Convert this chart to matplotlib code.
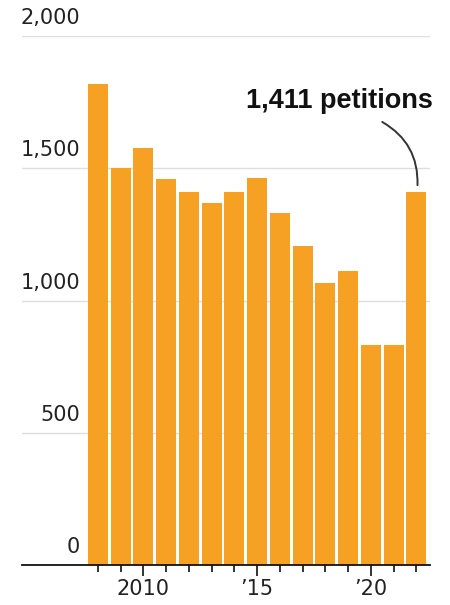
import matplotlib
matplotlib.use('Agg')
import matplotlib.pyplot as plt
from matplotlib.transforms import blended_transform_factory

plt.rcParams['font.family'] = ['DejaVu Sans']

# Petitions per year
years = list(range(2008, 2023))
petitions = [1820, 1500, 1575, 1460, 1410, 1370, 1410, 1465,
             1330, 1205, 1065, 1110, 832, 832, 1411]

y_ticks = [0, 500, 1000, 1500, 2000]
y_tick_labels = ['0', '500', '1,000', '1,500', '2,000']
x_major = [2010, 2015, 2020]
x_major_labels = ['2010', '\u201915', '\u201920']

bar_color = '#F6A124'

fig = plt.figure(figsize=(4.5, 6.05), dpi=100)
ax = fig.add_axes([22 / 450, 40 / 605, 408 / 450, 529 / 605])

ax.bar(years, petitions, width=0.88, color=bar_color, zorder=2)

ax.set_xlim(2004.66, 2022.6)
ax.set_ylim(0, 2000)

# horizontal gridlines with labels sitting above them
trans = blended_transform_factory(ax.transAxes, ax.transData)
for val, lab in zip(y_ticks, y_tick_labels):
    if val > 0:
        ax.axhline(val, color='#dedede', lw=1, zorder=1)
    ax.text(0.142, val + 30, lab, transform=trans, ha='right', va='bottom',
            fontsize=15, color='#222222')

for side in ['top', 'right', 'left']:
    ax.spines[side].set_visible(False)
ax.spines['bottom'].set_color('#111111')
ax.spines['bottom'].set_linewidth(1.3)
ax.spines['bottom'].set_zorder(3)

ax.set_yticks([])
ax.set_xticks(x_major)
ax.set_xticklabels(x_major_labels, fontsize=15, color='#222222')
ax.set_xticks(years, minor=True)
ax.tick_params(axis='x', which='major', length=8, width=1.2, color='#111111', pad=2)
ax.tick_params(axis='x', which='minor', length=5, width=1.2, color='#111111')

# callout for the latest year
ax.text(2022.72, 1755, '1,411 petitions', ha='right', va='center',
        fontsize=19.5, fontweight='bold', color='#111111',
        family=['Liberation Sans', 'DejaVu Sans'])
ax.annotate('', xy=(2022.05, 1436), xytext=(2020.5, 1675),
            arrowprops=dict(arrowstyle='-', color='#333333', lw=1.4,
                            connectionstyle='arc3,rad=-0.3',
                            shrinkA=0, shrinkB=0))

fig.savefig('out.png', dpi=100)
